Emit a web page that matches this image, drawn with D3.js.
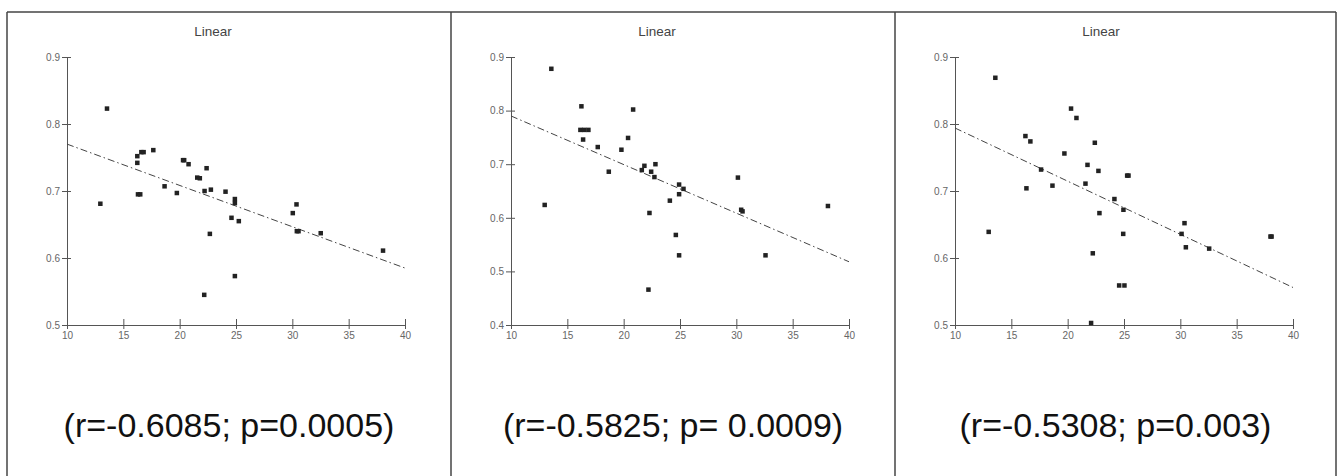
<!DOCTYPE html>
<html>
<head>
<meta charset="utf-8">
<script src="https://cdn.jsdelivr.net/npm/d3@7.9.0/dist/d3.min.js"></script>
<style>
  html, body { margin: 0; padding: 0; background: #fff; }
  svg { display: block; }
  .tick text { font-family: "Liberation Sans", Arial, sans-serif; font-size: 10px; fill: #666; }
  .domain, .tick line { stroke: #555; }
</style>
</head>
<body>
<div id="chart"></div>
<script>
// ---- data ----
const panelTitles = ['Linear', 'Linear', 'Linear'];
const statLabels = ['(r=-0.6085; p=0.0005)', '(r=-0.5825; p= 0.0009)', '(r=-0.5308; p=0.003)'];
const xTicks = [10, 15, 20, 25, 30, 35, 40];
const yTicks1 = [0.5, 0.6, 0.7, 0.8, 0.9];
const yTicks2 = [0.4, 0.5, 0.6, 0.7, 0.8, 0.9];
const yTicks3 = [0.5, 0.6, 0.7, 0.8, 0.9];

const xValues1 = [13.55, 12.96, 16.24, 16.24, 16.6, 16.8, 16.3, 16.5, 17.66, 18.66, 19.75, 20.3, 20.4,
  20.79, 21.56, 21.79, 22.39, 22.21, 22.77, 22.68, 22.18, 24.07, 24.9, 24.9, 24.6, 25.25, 24.9,
  30.04, 30.37, 30.4, 30.55, 32.52, 38.05];
const yValues1 = [0.823, 0.681, 0.752, 0.742, 0.758, 0.758, 0.695, 0.695, 0.761, 0.707, 0.697, 0.746, 0.746,
  0.740, 0.720, 0.719, 0.734, 0.700, 0.702, 0.636, 0.545, 0.699, 0.688, 0.682, 0.660, 0.655, 0.573,
  0.667, 0.680, 0.640, 0.640, 0.637, 0.611];

const xValues2 = [13.58, 12.99, 16.25, 16.16, 16.5, 16.87, 16.4, 17.7, 18.68, 19.8, 20.39, 20.84, 21.61,
  21.84, 22.44, 22.82, 22.73, 22.29, 22.2, 24.1, 24.92, 25.31, 24.92, 24.63, 24.92, 30.14, 30.43,
  30.55, 32.59, 38.13];
const yValues2 = [0.878, 0.624, 0.808, 0.764, 0.764, 0.764, 0.746, 0.732, 0.686, 0.727, 0.749, 0.802, 0.689,
  0.697, 0.686, 0.700, 0.676, 0.609, 0.466, 0.632, 0.662, 0.654, 0.644, 0.568, 0.530, 0.675, 0.615,
  0.612, 0.530, 0.622];

const xValues3 = [13.58, 12.99, 16.25, 16.69, 16.34, 17.64, 18.65, 19.71, 20.3, 20.78, 21.76, 21.58, 22.41,
  22.73, 22.82, 22.23, 22.08, 24.15, 24.95, 25.28, 25.4, 24.93, 24.57, 25.04, 30.37, 30.11, 30.49,
  32.56, 38.0, 38.1];
const yValues3 = [0.869, 0.639, 0.782, 0.774, 0.704, 0.732, 0.708, 0.756, 0.823, 0.809, 0.739, 0.711, 0.772,
  0.730, 0.667, 0.607, 0.503, 0.688, 0.672, 0.723, 0.723, 0.636, 0.559, 0.559, 0.652, 0.636, 0.616,
  0.614, 0.632, 0.632];

// fitted line, value at x=10 and at x=40
const fitStart = [0.770, 0.790, 0.794];
const fitEnd = [0.585, 0.518, 0.556];

const panels = [
  { xs: xValues1, ys: yValues1, yTicks: yTicks1 },
  { xs: xValues2, ys: yValues2, yTicks: yTicks2 },
  { xs: xValues3, ys: yValues3, yTicks: yTicks3 }
];

// ---- layout ----
const W = 1342, H = 476;
const borderX = [7, 451, 895, 1336];
const borderTop = 12;
const plotLeft = 60, plotW = 338, plotTop = 57, plotBottom = 325;

const svg = d3.select('#chart').append('svg')
  .attr('width', W).attr('height', H);

panels.forEach((p, i) => {
  const left = borderX[i];
  const g = svg.append('g').attr('transform', `translate(${left},0)`);

  const x = d3.scaleLinear().domain([10, 40]).range([plotLeft, plotLeft + plotW]);
  const y = d3.scaleLinear().domain([p.yTicks[0], 0.9]).range([plotBottom, plotTop]);

  g.append('text')
    .attr('x', 206).attr('y', 36)
    .attr('text-anchor', 'middle')
    .style('font-family', '"Liberation Sans", Arial, sans-serif')
    .style('font-size', '13.5px')
    .style('fill', '#444')
    .text(panelTitles[i]);

  const xAxis = g.append('g')
    .attr('transform', `translate(0,${plotBottom})`)
    .call(d3.axisBottom(x).tickValues(xTicks).tickSize(4).tickPadding(3).tickSizeOuter(0));
  xAxis.selectAll('.tick line').attr('y1', -6).attr('y2', 4);

  const yAxis = g.append('g')
    .attr('transform', `translate(${plotLeft},0)`)
    .call(d3.axisLeft(y).tickValues(p.yTicks).tickFormat(d3.format('.1f')).tickSize(4).tickPadding(3).tickSizeOuter(0));
  yAxis.selectAll('.tick line').attr('x1', -5).attr('x2', 4);

  // regression line
  g.append('line')
    .attr('x1', x(10)).attr('y1', y(fitStart[i]))
    .attr('x2', x(40)).attr('y2', y(fitEnd[i]))
    .attr('stroke', '#444')
    .attr('stroke-width', 1)
    .attr('stroke-dasharray', '7,3,1.5,3');

  g.selectAll('rect.pt')
    .data(d3.range(p.xs.length))
    .join('rect')
    .attr('class', 'pt')
    .attr('x', d => x(p.xs[d]) - 2.25)
    .attr('y', d => y(p.ys[d]) - 2.25)
    .attr('width', 4.5).attr('height', 4.5)
    .attr('fill', '#222');

  g.append('text')
    .attr('x', (borderX[i + 1] - left) / 2).attr('y', 437)
    .attr('text-anchor', 'middle')
    .style('font-family', '"Liberation Sans", Arial, sans-serif')
    .style('font-size', '34px')
    .style('fill', '#111')
    .text(statLabels[i]);
});

// panel borders
svg.append('line')
  .attr('x1', borderX[0]).attr('x2', borderX[3])
  .attr('y1', borderTop).attr('y2', borderTop)
  .attr('stroke', '#444').attr('stroke-width', 1.5);
borderX.forEach(bx => {
  svg.append('line')
    .attr('x1', bx).attr('x2', bx)
    .attr('y1', borderTop).attr('y2', H)
    .attr('stroke', '#444').attr('stroke-width', 1.5);
});
</script>
</body>
</html>
